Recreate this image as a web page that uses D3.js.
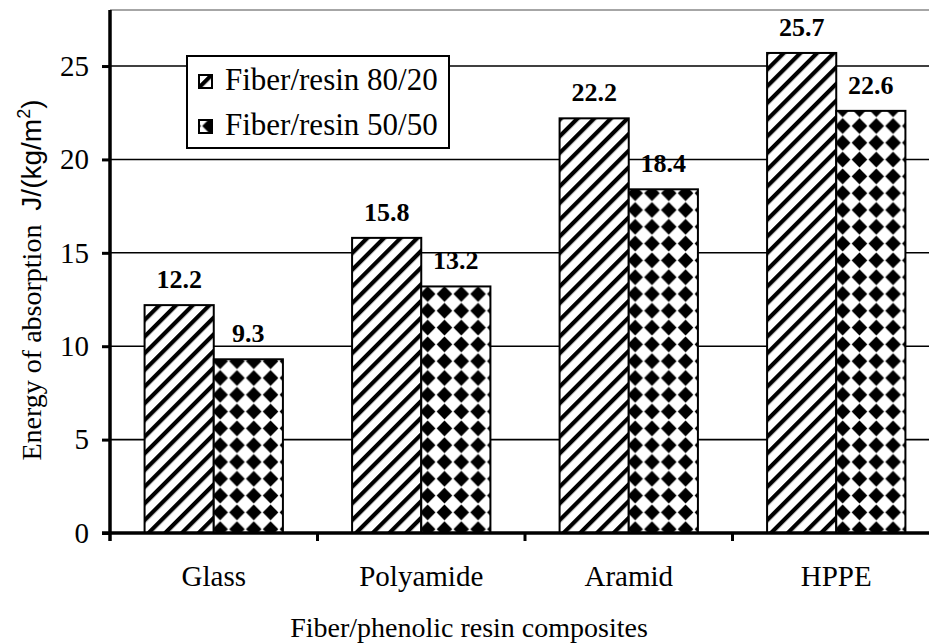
<!DOCTYPE html>
<html>
<head>
  <meta http-equiv="Content-Type" content="text/html; charset=UTF-8">
  <script src="https://d3js.org/d3.v7.min.js"></script>
  <style>
    body { margin:0; background:#fff; }
  </style>
</head>
<body>
  <svg width="929" height="644"></svg>
  <script>
    var categories = ["Glass", "Polyamide", "Aramid", "HPPE"];
    var seriesNames = ["Fiber/resin 80/20", "Fiber/resin 50/50"];
    var ratio8020 = [12.2, 15.8, 22.2, 25.7];
    var ratio5050 = [9.3, 13.2, 18.4, 22.6];
    var yTicks = [0, 5, 10, 15, 20, 25];

    var serif = "'Liberation Serif', 'Times New Roman', serif";
    var sans = "'Liberation Sans', Arial, sans-serif";

    var width = 929, height = 644;
    var plotLeft = 110, plotTop = 10, plotBottom = 533, plotRight = 940;

    var svg = d3.select("svg");

    // hatch patterns
    var defs = svg.append("defs");
    var stripe = defs.append("pattern")
        .attr("id", "stripe")
        .attr("patternUnits", "userSpaceOnUse")
        .attr("width", 11.8).attr("height", 11.8)
        .attr("patternTransform", "rotate(45)");
    stripe.append("rect").attr("width", 11.8).attr("height", 11.8).attr("fill", "#fff");
    stripe.append("rect").attr("x", 0).attr("width", 4.2).attr("height", 11.8).attr("fill", "#000");

    // black diamonds on white
    var p = 16.8, d = 7.8;
    var dots = defs.append("pattern")
        .attr("id", "dots")
        .attr("patternUnits", "userSpaceOnUse")
        .attr("width", p).attr("height", p);
    dots.append("rect").attr("width", p).attr("height", p).attr("fill", "#fff");
    dots.append("path")
        .attr("d", "M" + (p / 2) + "," + (p / 2 - d) + "L" + (p / 2 + d) + "," + (p / 2) +
                   "L" + (p / 2) + "," + (p / 2 + d) + "L" + (p / 2 - d) + "," + (p / 2) + "Z")
        .attr("fill", "#000");

    var fills = ["url(#stripe)", "url(#dots)"];

    var x = d3.scaleBand()
        .domain(categories)
        .range([plotLeft, plotRight])
        .paddingInner(1 / 3)
        .paddingOuter(1 / 6);

    var xSub = d3.scaleBand()
        .domain([0, 1])
        .range([0, x.bandwidth()]);

    var y = d3.scaleLinear()
        .domain([0, 28])
        .range([plotBottom, plotTop]);

    // top frame line
    svg.append("line")
        .attr("x1", plotLeft).attr("x2", width)
        .attr("y1", plotTop).attr("y2", plotTop)
        .attr("stroke", "#888").attr("stroke-width", 1.5);

    // gridlines
    svg.append("g")
        .selectAll("line")
        .data(yTicks.slice(1))
        .enter().append("line")
        .attr("x1", plotLeft).attr("x2", width)
        .attr("y1", function(v) { return y(v); })
        .attr("y2", function(v) { return y(v); })
        .attr("stroke", "#000").attr("stroke-width", 1.6);

    // bars
    var rows = categories.map(function(c, i) {
      return { cat: c, values: [ratio8020[i], ratio5050[i]] };
    });

    var groups = svg.append("g").selectAll("g")
        .data(rows)
        .enter().append("g")
        .attr("transform", function(r) { return "translate(" + x(r.cat) + ",0)"; });

    groups.selectAll("rect")
        .data(function(r) { return r.values; })
        .enter().append("rect")
        .attr("x", function(v, i) { return xSub(i); })
        .attr("y", function(v) { return y(v); })
        .attr("width", xSub.bandwidth())
        .attr("height", function(v) { return y(0) - y(v); })
        .attr("fill", function(v, i) { return fills[i]; })
        .attr("stroke", "#000")
        .attr("stroke-width", 2);

    groups.selectAll("text.val")
        .data(function(r) { return r.values; })
        .enter().append("text")
        .attr("class", "val")
        .attr("x", function(v, i) { return xSub(i) + xSub.bandwidth() / 2; })
        .attr("y", function(v) { return y(v) - 17; })
        .attr("text-anchor", "middle")
        .style("font-family", serif)
        .style("font-weight", "bold")
        .style("font-size", "26px")
        .text(function(v) { return v.toFixed(1); });

    // y axis
    var yAxis = svg.append("g")
        .attr("transform", "translate(" + plotLeft + ",0)")
        .call(d3.axisLeft(y).tickValues(yTicks).tickSize(8).tickPadding(13));
    yAxis.select(".domain").remove();
    yAxis.selectAll(".tick line").attr("stroke-width", 3);
    yAxis.selectAll(".tick text")
        .style("font-family", serif)
        .style("font-size", "29px")
        .attr("fill", "#000");
    svg.append("line")
        .attr("x1", plotLeft).attr("x2", plotLeft)
        .attr("y1", plotTop).attr("y2", plotBottom + 8)
        .attr("stroke", "#000").attr("stroke-width", 3.5);

    // x axis
    svg.append("line")
        .attr("x1", plotLeft - 8).attr("x2", width)
        .attr("y1", plotBottom).attr("y2", plotBottom)
        .attr("stroke", "#000").attr("stroke-width", 3.5);
    var gap = x.step() * x.paddingInner() / 2;
    svg.append("g").selectAll("line")
        .data(categories.slice(1))
        .enter().append("line")
        .attr("x1", function(c) { return x(c) - gap; })
        .attr("x2", function(c) { return x(c) - gap; })
        .attr("y1", plotBottom).attr("y2", plotBottom + 8)
        .attr("stroke", "#000").attr("stroke-width", 3);

    svg.append("g").selectAll("text")
        .data(categories)
        .enter().append("text")
        .attr("x", function(c) { return x(c) + x.bandwidth() / 2; })
        .attr("y", 586)
        .attr("text-anchor", "middle")
        .style("font-family", serif)
        .style("font-size", "29px")
        .text(function(c) { return c; });

    // axis titles
    svg.append("text")
        .attr("x", 469).attr("y", 637)
        .attr("text-anchor", "middle")
        .style("font-family", serif)
        .style("font-size", "28px")
        .text("Fiber/phenolic resin composites");

    var yt = svg.append("text")
        .attr("transform", "translate(41,280) rotate(-90)")
        .attr("text-anchor", "middle")
        .style("font-family", serif)
        .style("font-size", "28px");
    yt.append("tspan").text("Energy of absorption\u00a0\u00a0");
    yt.append("tspan").style("font-family", sans).text("J/(kg/m");
    yt.append("tspan").style("font-family", sans)
        .style("font-size", "18px").attr("dy", -11).text("2");
    yt.append("tspan").style("font-family", sans)
        .attr("dy", 11).text(")");

    // legend
    var lg = svg.append("g");
    lg.append("rect")
        .attr("x", 187).attr("y", 56)
        .attr("width", 262).attr("height", 92)
        .attr("fill", "#fff").attr("stroke", "#000").attr("stroke-width", 2);
    seriesNames.forEach(function(name, i) {
      var yy = 90 + i * 45;
      lg.append("rect")
          .attr("x", 199).attr("y", yy - 15)
          .attr("width", 13).attr("height", 13)
          .attr("fill", fills[i]).attr("stroke", "#000").attr("stroke-width", 2);
      lg.append("text")
          .attr("x", 225).attr("y", yy)
          .style("font-family", serif)
          .style("font-size", "31px")
          .text(name);
    });
  </script>
</body>
</html>
